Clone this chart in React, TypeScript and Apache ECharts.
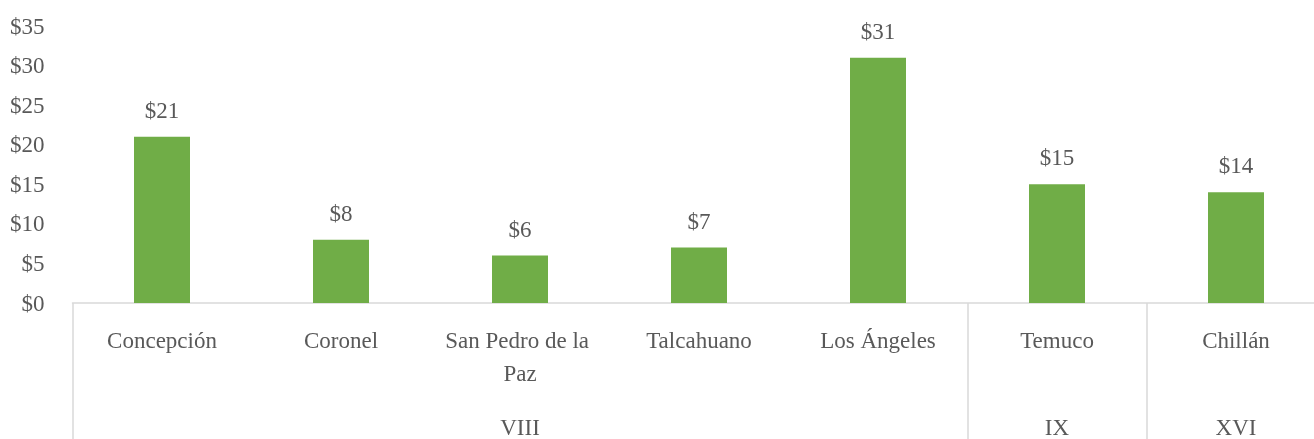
import React, { useEffect, useRef } from "react";
import * as echarts from "echarts";

const categories = ["Concepción", "Coronel", "San Pedro de la Paz", "Talcahuano", "Los Ángeles", "Temuco", "Chillán"];
const groupLabels = ["", "", "VIII", "", "", "IX", "XVI"];
const groupStarts = [0, 5, 6];
const values = [21, 8, 6, 7, 31, 15, 14];

const FONT = "Liberation Serif";
const TEXT = "#595959";
const LINE = "#d9d9d9";

export default function App() {
  const ref = useRef<HTMLDivElement>(null);
  useEffect(() => {
    if (!ref.current) return;
    const chart = echarts.init(ref.current, undefined, { renderer: "svg" });
    chart.setOption({
      animation: false,
      textStyle: { fontFamily: FONT },
      grid: { left: 72.5, top: 26, width: 1253, height: 277, containLabel: false, outerBoundsMode: "none" },
      xAxis: [
        {
          type: "category",
          data: categories,
          position: "bottom",
          axisLine: { show: true, lineStyle: { color: LINE, width: 1.5 } },
          axisTick: {
            show: true,
            length: 140,
            interval: (i: number) => groupStarts.includes(i),
            lineStyle: { color: LINE, width: 1.5 },
          },
          axisLabel: {
            interval: 0,
            width: 172,
            overflow: "break",
            fontSize: 23,
            lineHeight: 33,
            margin: 21,
            color: TEXT,
            fontFamily: FONT,
          },
          splitLine: { show: false },
        },
        {
          type: "category",
          data: groupLabels,
          position: "bottom",
          offset: 0,
          axisLine: { show: false },
          axisTick: { show: false },
          axisLabel: {
            interval: 0,
            fontSize: 23,
            lineHeight: 33,
            margin: 108,
            color: TEXT,
            fontFamily: FONT,
          },
          splitLine: { show: false },
        },
      ],
      yAxis: {
        type: "value",
        min: 0,
        max: 35,
        interval: 5,
        axisLine: { show: false },
        axisTick: { show: false },
        splitLine: { show: false },
        axisLabel: {
          formatter: (v: number) => "$" + v,
          fontSize: 23,
          margin: 28,
          color: TEXT,
          fontFamily: FONT,
        },
      },
      series: [
        {
          type: "bar",
          xAxisIndex: 0,
          data: values,
          barWidth: 56,
          itemStyle: { color: "#70AD47" },
          label: {
            show: true,
            position: "top",
            distance: 15,
            formatter: (p: any) => "$" + p.value,
            fontSize: 23,
            color: TEXT,
            fontFamily: FONT,
          },
        },
      ],
    });
    return () => chart.dispose();
  }, []);
  return <div ref={ref} style={{ position: "fixed", left: 0, top: 0, width: 1314, height: 439 }} />;
}
